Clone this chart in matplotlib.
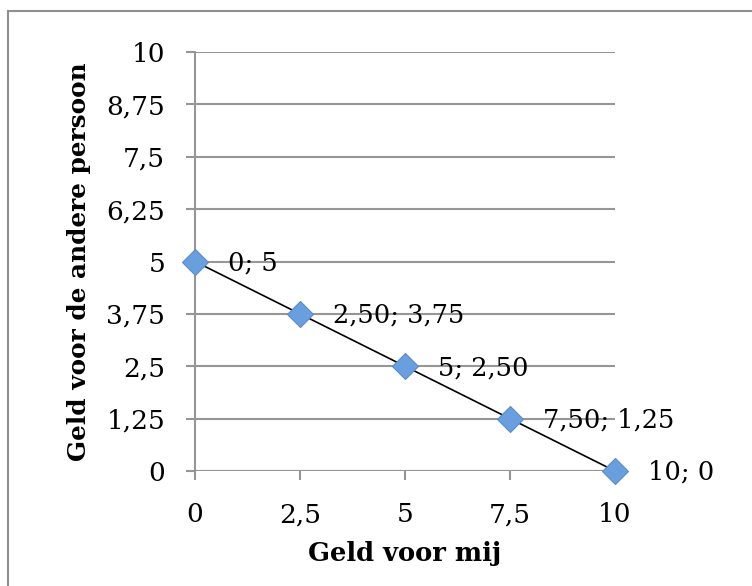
import matplotlib.pyplot as plt
from matplotlib.lines import Line2D

# data
mij = [0, 2.5, 5, 7.5, 10]
ander = [5, 3.75, 2.5, 1.25, 0]
punt_labels = ['0; 5', '2,50; 3,75', '5; 2,50', '7,50; 1,25', '10; 0']
y_ticks = [0, 1.25, 2.5, 3.75, 5, 6.25, 7.5, 8.75, 10]
y_ticklabels = ['0', '1,25', '2,5', '3,75', '5', '6,25', '7,5', '8,75', '10']
x_ticks = [0, 2.5, 5, 7.5, 10]
x_ticklabels = ['0', '2,5', '5', '7,5', '10']

plt.rcParams['font.family'] = 'DejaVu Serif'
grijs = '#969696'

fig = plt.figure(figsize=(7.52, 5.86), dpi=100)
ax = fig.add_axes([0.2593, 0.1962, 0.5585, 0.7151])

ax.plot(mij, ander, color='black', lw=1.2, zorder=3)
ax.plot(mij, ander, ls='none', marker='D', markersize=13.5,
        markerfacecolor='#6A9FDF', markeredgecolor='#5A8CCB', markeredgewidth=0.8,
        zorder=4, clip_on=False)

for x, y, t in zip(mij, ander, punt_labels):
    ax.annotate(t, (x, y), xytext=(24, -1), textcoords='offset points',
                ha='left', va='center', fontsize=18.5, zorder=5)

ax.set_xlim(0, 10)
ax.set_ylim(0, 10)
ax.set_yticks(y_ticks)
ax.set_yticklabels(y_ticklabels)
ax.set_xticks(x_ticks)
ax.set_xticklabels(x_ticklabels)

ax.grid(axis='y', color=grijs, lw=1.5)
ax.set_axisbelow(True)
for s in ['top', 'right', 'bottom']:
    ax.spines[s].set_visible(False)
ax.spines['left'].set_color(grijs)
ax.spines['left'].set_linewidth(1.5)
ax.axhline(0, color=grijs, lw=1.5, zorder=1)

ax.tick_params(axis='both', direction='out', length=6.5, width=1.5, color=grijs,
               labelsize=19)
ax.tick_params(axis='y', pad=15)
ax.tick_params(axis='x', pad=16)

ax.set_xlabel('Geld voor mij', fontsize=18.5, fontweight='bold', labelpad=10)
ax.set_ylabel('Geld voor de andere persoon', fontsize=17.8, fontweight='bold', labelpad=11)

# rand van het grafiekvlak
fig.add_artist(Line2D([8 / 752, 1], [1 - 11 / 586, 1 - 11 / 586], color='#909090', lw=1.5))
fig.add_artist(Line2D([8 / 752, 8 / 752], [0, 1 - 11 / 586], color='#909090', lw=1.5))

fig.savefig('out.png', dpi=100)
